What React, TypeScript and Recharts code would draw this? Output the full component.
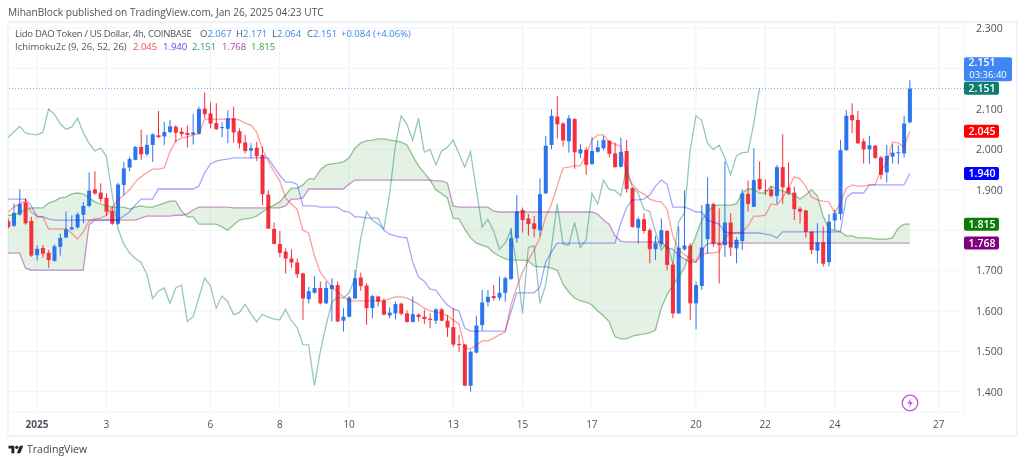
import { ComposedChart, Area, Bar, Line, XAxis, YAxis, CartesianGrid, ReferenceLine } from 'recharts';

// 4h candles, first one sits a little before Jan 1
const firstBar = -5;

const opens = [
  1.822,1.811,1.839,1.868,1.823,1.738,1.756,1.744,1.724,1.759,
  1.782,1.802,1.807,1.838,1.860,1.901,1.893,1.880,1.848,1.816,
  1.912,1.955,1.974,2.006,1.988,2.011,2.035,2.032,2.043,2.056,
  2.044,2.041,2.037,2.039,2.101,2.089,2.065,2.054,2.051,2.077,
  2.045,2.017,1.997,2.004,1.986,1.888,1.803,1.766,1.747,1.730,
  1.720,1.693,1.629,1.645,1.657,1.619,1.654,1.664,1.576,1.586,
  1.631,1.683,1.663,1.607,1.636,1.626,1.589,1.594,1.618,1.594,
  1.573,1.591,1.586,1.581,1.576,1.604,1.576,1.560,1.518,1.517,
  1.415,1.497,1.565,1.622,1.637,1.633,1.645,1.679,1.780,1.850,
  1.829,1.817,1.800,1.891,2.011,2.081,2.064,2.020,2.075,1.990,
  1.999,1.964,1.994,2.003,2.021,1.990,1.957,1.996,1.904,1.806,
  1.827,1.800,1.753,1.766,1.798,1.715,1.594,1.753,1.762,1.619,
  1.662,1.778,1.865,1.767,1.763,1.819,1.755,1.773,1.890,1.858,
  1.927,1.899,1.901,1.885,1.956,1.906,1.893,1.853,1.849,1.796,
  1.749,1.770,1.721,1.824,1.840,1.998,2.085,2.073,2.020,2.000,
  2.009,1.980,1.943,1.982,1.991,1.990,2.067,
];
const highs = [
  1.829,1.866,1.901,1.879,1.833,1.763,1.763,1.751,1.765,1.792,
  1.846,1.837,1.844,1.870,1.943,1.946,1.916,1.891,1.858,1.917,
  1.969,1.982,2.008,2.049,2.036,2.040,2.095,2.068,2.073,2.060,
  2.054,2.059,2.087,2.106,2.141,2.116,2.114,2.067,2.097,2.106,
  2.052,2.036,2.015,2.019,2.006,1.899,1.819,1.798,1.755,1.753,
  1.730,1.695,1.660,1.687,1.673,1.673,1.681,1.673,1.607,1.637,
  1.701,1.695,1.668,1.640,1.638,1.631,1.609,1.623,1.621,1.601,
  1.636,1.594,1.603,1.594,1.607,1.607,1.590,1.607,1.541,1.518,
  1.503,1.588,1.652,1.652,1.664,1.685,1.685,1.805,1.887,1.856,
  1.840,1.835,1.928,2.033,2.099,2.132,2.067,2.085,2.077,2.013,
  2.005,2.031,2.022,2.033,2.023,2.017,2.029,2.023,1.906,1.833,
  1.842,1.805,1.786,1.829,1.800,1.722,1.809,1.899,1.768,1.673,
  1.862,1.931,1.868,1.854,1.970,1.842,1.782,1.901,1.923,2.003,
  1.970,1.926,1.908,1.961,2.037,1.968,1.908,1.858,1.850,1.798,
  1.817,1.809,1.840,1.850,2.023,2.097,2.114,2.095,2.027,2.033,
  2.011,1.984,2.011,2.013,2.010,2.083,2.171,
];
const lows = [
  1.804,1.808,1.836,1.813,1.734,1.725,1.732,1.707,1.722,1.737,
  1.780,1.800,1.804,1.817,1.857,1.888,1.870,1.835,1.813,1.813,
  1.887,1.946,1.973,1.974,1.984,1.969,2.029,2.011,2.040,2.017,
  2.031,2.005,2.012,2.037,2.077,2.052,2.048,2.030,2.015,2.017,
  2.002,1.990,1.978,1.971,1.862,1.803,1.765,1.733,1.693,1.707,
  1.682,1.578,1.619,1.643,1.616,1.617,1.574,1.573,1.549,1.584,
  1.630,1.650,1.566,1.582,1.611,1.589,1.582,1.579,1.589,1.571,
  1.571,1.574,1.568,1.557,1.568,1.574,1.536,1.510,1.499,1.414,
  1.400,1.495,1.551,1.611,1.626,1.626,1.623,1.677,1.769,1.794,
  1.786,1.782,1.784,1.890,2.000,2.027,2.007,1.992,1.952,1.978,
  1.937,1.961,1.992,1.998,1.980,1.955,1.955,1.893,1.806,1.767,
  1.792,1.718,1.726,1.759,1.701,1.582,1.593,1.749,1.578,1.555,
  1.652,1.741,1.759,1.668,1.734,1.736,1.718,1.751,1.846,1.857,
  1.898,1.887,1.881,1.865,1.865,1.887,1.825,1.817,1.782,1.741,
  1.718,1.710,1.711,1.800,1.825,1.997,2.040,2.013,1.965,1.964,
  1.977,1.926,1.918,1.965,1.963,1.980,2.064,
];
const closes = [
  1.808,1.843,1.865,1.817,1.737,1.754,1.742,1.726,1.760,1.781,
  1.802,1.807,1.839,1.860,1.898,1.891,1.877,1.846,1.816,1.913,
  1.953,1.976,2.006,1.988,2.011,2.037,2.030,2.043,2.057,2.041,
  2.038,2.036,2.042,2.100,2.087,2.064,2.050,2.055,2.077,2.042,
  2.015,1.996,2.003,1.983,1.889,1.804,1.766,1.744,1.730,1.720,
  1.691,1.631,1.649,1.657,1.619,1.657,1.664,1.574,1.586,1.633,
  1.681,1.662,1.607,1.637,1.623,1.591,1.596,1.617,1.593,1.573,
  1.592,1.585,1.580,1.578,1.604,1.576,1.559,1.517,1.516,1.415,
  1.499,1.564,1.621,1.635,1.632,1.645,1.681,1.780,1.846,1.825,
  1.815,1.803,1.889,2.009,2.083,2.062,2.022,2.077,1.993,2.000,
  1.962,1.996,2.005,2.023,1.989,1.956,1.994,1.902,1.808,1.827,
  1.798,1.753,1.768,1.800,1.714,1.594,1.757,1.762,1.619,1.664,
  1.757,1.865,1.766,1.763,1.819,1.757,1.776,1.891,1.865,1.924,
  1.901,1.898,1.885,1.956,1.906,1.891,1.852,1.846,1.796,1.751,
  1.770,1.717,1.821,1.842,1.998,2.083,2.072,2.015,2.000,2.010,
  1.979,1.937,1.984,1.992,1.993,2.064,2.151,
];

const conversion = [
  1.845,1.857,1.865,1.872,1.845,1.835,1.833,1.803,1.803,1.803,
  1.803,1.793,1.778,1.796,1.823,1.828,1.830,1.837,1.857,1.875,
  1.887,1.900,1.919,1.932,1.942,1.951,1.951,1.954,1.994,2.021,
  2.028,2.031,2.036,2.038,2.075,2.075,2.075,2.075,2.075,2.075,
  2.073,2.065,2.060,2.043,2.001,1.971,1.944,1.922,1.880,1.865,
  1.852,1.800,1.793,1.736,1.696,1.677,1.659,1.647,1.635,1.625,
  1.625,1.625,1.625,1.625,1.625,1.625,1.630,1.635,1.635,1.632,
  1.625,1.617,1.607,1.600,1.598,1.595,1.588,1.578,1.568,1.508,
  1.506,1.516,1.526,1.526,1.533,1.541,1.548,1.615,1.659,1.696,
  1.726,1.751,1.781,1.833,1.865,1.909,1.954,1.956,1.959,1.959,
  1.986,2.023,2.036,2.036,2.018,2.013,2.008,1.937,1.914,1.897,
  1.890,1.877,1.872,1.870,1.852,1.786,1.751,1.739,1.731,1.721,
  1.739,1.744,1.744,1.746,1.781,1.793,1.793,1.796,1.810,1.835,
  1.835,1.837,1.865,1.862,1.880,1.904,1.932,1.927,1.909,1.882,
  1.875,1.872,1.870,1.843,1.867,1.904,1.912,1.909,1.909,1.912,
  1.912,1.949,1.966,2.018,2.016,2.006,2.045,
];
const baseLine = [
  1.877,1.877,1.877,1.877,1.860,1.833,1.833,1.828,1.825,1.825,
  1.825,1.825,1.825,1.825,1.825,1.825,1.825,1.825,1.825,1.825,
  1.835,1.845,1.862,1.877,1.877,1.877,1.902,1.902,1.902,1.902,
  1.902,1.902,1.902,1.909,1.942,1.964,1.971,1.974,1.976,1.979,
  1.979,1.979,1.979,1.979,1.979,1.979,1.956,1.936,1.919,1.919,
  1.914,1.860,1.860,1.860,1.857,1.857,1.857,1.857,1.847,1.845,
  1.833,1.833,1.830,1.830,1.830,1.800,1.790,1.786,1.783,1.781,
  1.721,1.684,1.674,1.654,1.652,1.632,1.615,1.605,1.600,1.558,
  1.550,1.550,1.550,1.550,1.550,1.550,1.550,1.598,1.645,1.645,
  1.645,1.645,1.659,1.721,1.746,1.768,1.768,1.768,1.768,1.768,
  1.768,1.768,1.768,1.768,1.768,1.768,1.818,1.855,1.875,1.875,
  1.877,1.887,1.909,1.924,1.914,1.857,1.857,1.857,1.852,1.845,
  1.845,1.825,1.820,1.815,1.796,1.793,1.793,1.793,1.793,1.793,
  1.793,1.790,1.788,1.781,1.796,1.796,1.796,1.796,1.796,1.796,
  1.796,1.796,1.796,1.796,1.796,1.880,1.892,1.892,1.892,1.912,
  1.912,1.912,1.912,1.912,1.912,1.912,1.940,
];
// ends 26 bars before the last candle
const lagging = [
  2.030,2.043,2.057,2.041,
  2.038,2.036,2.042,2.100,2.087,2.064,2.050,2.055,2.077,2.042,
  2.015,1.996,2.003,1.983,1.889,1.804,1.766,1.744,1.730,1.720,
  1.691,1.631,1.649,1.657,1.619,1.657,1.664,1.574,1.586,1.633,
  1.681,1.662,1.607,1.637,1.623,1.591,1.596,1.617,1.593,1.573,
  1.592,1.585,1.580,1.578,1.604,1.576,1.559,1.517,1.516,1.415,
  1.499,1.564,1.621,1.635,1.632,1.645,1.681,1.780,1.846,1.825,
  1.815,1.803,1.889,2.009,2.083,2.062,2.022,2.077,1.993,2.000,
  1.962,1.996,2.005,2.023,1.989,1.956,1.994,1.902,1.808,1.827,
  1.798,1.753,1.768,1.800,1.714,1.594,1.757,1.762,1.619,1.664,
  1.757,1.865,1.766,1.763,1.819,1.757,1.776,1.891,1.865,1.924,
  1.901,1.898,1.885,1.956,1.906,1.891,1.852,1.846,1.796,1.751,
  1.770,1.717,1.821,1.842,1.998,2.083,2.072,2.015,2.000,2.010,
  1.979,1.937,1.984,1.992,1.993,2.064,2.151,
];
const leadA = [
  1.837,1.837,1.845,1.850,1.855,1.855,1.855,1.867,1.872,1.880,
  1.882,1.890,1.892,1.890,1.880,1.870,1.865,1.860,1.857,1.857,
  1.857,1.852,1.857,1.860,1.857,1.857,1.862,1.867,1.872,1.872,
  1.847,1.833,1.833,1.815,1.815,1.815,1.815,1.808,1.800,1.813,
  1.825,1.828,1.830,1.835,1.845,1.855,1.862,1.870,1.887,1.904,
  1.904,1.912,1.927,1.927,1.949,1.961,1.964,1.966,1.969,1.979,
  2.003,2.016,2.021,2.023,2.026,2.026,2.023,2.021,2.018,2.011,
  1.984,1.959,1.942,1.924,1.900,1.890,1.880,1.830,1.828,1.803,
  1.781,1.768,1.763,1.758,1.744,1.736,1.729,1.726,1.726,1.726,
  1.724,1.711,1.709,1.709,1.706,1.701,1.667,1.647,1.632,1.625,
  1.622,1.615,1.600,1.588,1.573,1.536,1.531,1.531,1.538,1.541,
  1.543,1.546,1.553,1.607,1.640,1.664,1.684,1.706,1.751,1.786,
  1.825,1.845,1.860,1.862,1.862,1.862,1.865,1.892,1.902,1.902,
  1.892,1.892,1.909,1.902,1.897,1.892,1.887,1.877,1.887,1.900,
  1.885,1.835,1.803,1.800,1.796,1.786,1.786,1.781,1.781,1.781,
  1.778,1.778,1.778,1.781,1.805,1.815,1.815,
];
const leadB = [
  1.743,1.743,1.743,1.706,1.701,1.701,1.701,1.701,1.701,1.701,
  1.701,1.701,1.701,1.701,1.813,1.825,1.825,1.825,1.825,1.825,
  1.825,1.825,1.825,1.830,1.835,1.835,1.835,1.835,1.835,1.837,
  1.837,1.840,1.850,1.857,1.857,1.857,1.857,1.857,1.857,1.855,
  1.855,1.855,1.855,1.855,1.855,1.855,1.855,1.855,1.860,1.877,
  1.877,1.880,1.902,1.902,1.902,1.902,1.902,1.902,1.902,1.914,
  1.924,1.924,1.924,1.924,1.924,1.924,1.924,1.924,1.924,1.924,
  1.924,1.924,1.924,1.924,1.922,1.922,1.917,1.860,1.857,1.857,
  1.857,1.857,1.857,1.857,1.847,1.845,1.845,1.845,1.845,1.845,
  1.845,1.845,1.845,1.845,1.845,1.845,1.845,1.845,1.845,1.845,
  1.845,1.845,1.840,1.825,1.815,1.786,1.773,1.771,1.771,1.771,
  1.771,1.771,1.771,1.771,1.756,1.753,1.738,1.729,1.721,1.721,
  1.751,1.766,1.768,1.768,1.768,1.768,1.768,1.768,1.768,1.768,
  1.768,1.768,1.768,1.768,1.768,1.768,1.768,1.768,1.768,1.768,
  1.768,1.768,1.768,1.768,1.768,1.768,1.768,1.768,1.768,1.768,
  1.768,1.768,1.768,1.768,1.768,1.768,1.768,
];

const priceTicks = [2.3, 2.2, 2.1, 2.0, 1.9, 1.8, 1.7, 1.6, 1.5, 1.4];
// these two sit behind the price badges in the original
const hiddenPriceLabels = [2.2, 1.8];
const timeTicks = [0, 12, 30, 42, 54, 72, 84, 96, 114, 126, 138, 156];
const timeLabels = ['2025', '3', '6', '8', '10', '13', '15', '17', '20', '22', '24', '27'];

const lastPrice = 2.151;
const badgeValues = [2.151, 2.045, 1.94, 1.815, 1.768];
const badgeColors = ['#0f7c72', '#ff0000', '#0000ff', '#0b7a0b', '#800080'];

const data = opens.map((open, k) => ({
  i: firstBar + k,
  open,
  high: highs[k],
  low: lows[k],
  close: closes[k],
  conversion: conversion[k],
  baseLine: baseLine[k],
  lagging: lagging[k],
  leadA: leadA[k],
  leadB: leadB[k],
}));

const UP = '#2b76ef';
const DOWN = '#f4303f';
const GRID = '#f1f3f8';
const FONT = '"Open Sans", sans-serif';
const TEXT = '#50535e';

function Candle(props: any) {
  const { x, y, width, height, payload } = props;
  const { open, high, low, close } = payload;
  const yOf = (p: number) => y + ((high - p) / (high - low)) * height;
  const top = yOf(Math.max(open, close));
  const bottom = yOf(Math.min(open, close));
  const color = close >= open ? UP : DOWN;
  const cx = x + width / 2;
  return (
    <g>
      <line x1={cx} x2={cx} y1={y} y2={y + height} stroke={color} strokeWidth={1} />
      <rect x={x} y={top} width={width} height={Math.max(bottom - top, 1)} fill={color} />
    </g>
  );
}

function Badge({ viewBox, color, text }: any) {
  const left = viewBox.x + viewBox.width;
  return (
    <g>
      <rect x={left} y={viewBox.y - 6.5} width={35} height={13} rx={2} fill={color} />
      <text x={left + 18} y={viewBox.y + 3.5} textAnchor="middle" fontSize={10.5} fontFamily={FONT} fontWeight={600} fill="#fff">
        {text}
      </text>
    </g>
  );
}

function CountdownBadge({ viewBox }: any) {
  const left = viewBox.x + viewBox.width;
  return (
    <g fontFamily={FONT} fill="#fff" textAnchor="middle">
      <rect x={left} y={viewBox.y - 31} width={48} height={24} rx={2} fill="#3f86f4" />
      <text x={left + 18} y={viewBox.y - 22} fontSize={10.5} fontWeight={600}>{lastPrice.toFixed(3)}</text>
      <text x={left + 24} y={viewBox.y - 10.5} fontSize={9.5}>03:36:40</text>
    </g>
  );
}

function TimeTick({ x, y, payload }: any) {
  const label = timeLabels[timeTicks.indexOf(payload.value)];
  return (
    <text x={x} y={y + 8} textAnchor="middle" fontSize={10} fontFamily={FONT} fontWeight={label === '2025' ? 700 : 400} fill={TEXT}>
      {label}
    </text>
  );
}

const abs = (left: number, top: number, color = TEXT): React.CSSProperties => ({
  position: 'absolute',
  left,
  top,
  color,
  fontFamily: FONT,
  fontSize: 9.5,
  lineHeight: '12px',
  whiteSpace: 'nowrap',
});

const ohlc: [string, number, string][] = [
  ['O', 200, '2.067'],
  ['H', 236, '2.171'],
  ['L', 272, '2.064'],
  ['C', 307, '2.151'],
];
const VALUE = '#3d86ee';
const indicatorValues: [string, number, string][] = [
  ['2.045', 133, '#f4484f'],
  ['1.940', 163, '#4d4dff'],
  ['2.151', 192, '#26958d'],
  ['1.768', 222, '#a445a4'],
  ['1.815', 251, '#3fa03f'],
];

export default function App() {
  return (
    <div style={{ position: 'absolute', left: 0, top: 0, width: 1024, height: 463, background: '#fff', overflow: 'hidden', filter: 'blur(0.35px)' }}>
      <div style={{ position: 'absolute', left: 7, top: 21, width: 1007, height: 412, border: `2px solid ${GRID}` }} />

      <ComposedChart width={1024} height={463} data={data} margin={{ top: 23, right: 0, bottom: 28, left: 8 }} style={{ position: 'absolute', left: 0, top: 0 }}>
        <CartesianGrid stroke={GRID} strokeWidth={1} />
        <XAxis
          dataKey="i"
          type="number"
          domain={[-5.02, 160.38]}
          ticks={timeTicks}
          tick={<TimeTick />}
          axisLine={false}
          tickLine={false}
          height={23}
          allowDataOverflow
        />
        <YAxis
          orientation="right"
          type="number"
          domain={[1.35, 2.3128]}
          ticks={priceTicks}
          tickFormatter={(v: number) => (hiddenPriceLabels.includes(v) ? '' : v.toFixed(3))}
          tick={{ fontSize: 10.5, fontFamily: FONT, fill: TEXT }}
          tickMargin={6}
          axisLine={false}
          tickLine={false}
          width={60}
          allowDataOverflow
        />
        <Area dataKey={(d: any) => [d.leadB, d.leadA]} stroke="none" fill="#43a047" fillOpacity={0.14} isAnimationActive={false} />
        <Line dataKey="leadA" stroke="#2e8b2e" strokeOpacity={0.5} strokeWidth={1.3} dot={false} isAnimationActive={false} />
        <Line dataKey="leadB" stroke="#800080" strokeOpacity={0.4} strokeWidth={1.3} dot={false} isAnimationActive={false} />
        <Line dataKey="lagging" stroke="#00796b" strokeOpacity={0.42} strokeWidth={1.3} dot={false} isAnimationActive={false} />
        <Line dataKey="baseLine" stroke="#0000ff" strokeOpacity={0.35} strokeWidth={1.3} dot={false} isAnimationActive={false} />
        <Line dataKey="conversion" stroke="#ff0000" strokeOpacity={0.38} strokeWidth={1.3} dot={false} isAnimationActive={false} />
        <Bar dataKey={(d: any) => [d.low, d.high]} barSize={4} shape={<Candle />} isAnimationActive={false} />
        <ReferenceLine y={lastPrice} stroke="#6f9ff0" strokeDasharray="1 2" label={(p: any) => <CountdownBadge {...p} />} />
        {badgeValues.map((v, k) => (
          <ReferenceLine key={k} y={v} stroke="none" label={(p: any) => <Badge {...p} color={badgeColors[k]} text={v.toFixed(3)} />} />
        ))}
      </ComposedChart>

      <div style={{ ...abs(8, 6), fontSize: 10.15 }}>MihanBlock published on TradingView.com, Jan 26, 2025 04:23 UTC</div>

      <div style={{ ...abs(15, 28), letterSpacing: -0.28 }}>Lido DAO Token / US Dollar, 4h, COINBASE</div>
      {ohlc.map(([k, left, v]) => (
        <div key={k} style={{ ...abs(left, 28) }}>
          {k}
          <span style={{ color: VALUE }}>{v}</span>
        </div>
      ))}
      <div style={{ ...abs(341, 28, VALUE) }}>+0.084 (+4.06%)</div>

      <div style={{ ...abs(15, 41) }}>Ichimoku2c (9, 26, 52, 26)</div>
      {indicatorValues.map(([v, left, color]) => (
        <div key={left} style={{ ...abs(left, 41, color) }}>{v}</div>
      ))}

      <svg width={20} height={20} viewBox="0 0 20 20" style={{ position: 'absolute', left: 900, top: 393 }}>
        <circle cx={10} cy={10} r={7.8} fill="#fff" stroke="#c352dc" strokeWidth={1.3} />
        <path d="M11 5 L7.5 10.8 H10 L9 15 L12.7 9 H10.2 Z" fill="#c352dc" />
      </svg>

      <svg width={16} height={10} viewBox="0 0 36 24" style={{ position: 'absolute', left: 8, top: 444 }}>
        <path d="M14 22H7V11H0V4h14v18zM28 22h-8l7.5-18h8L28 22z" fill="#222" />
        <circle cx={20} cy={8} r={4} fill="#222" />
      </svg>
      <div style={{ ...abs(27, 443, '#444'), fontSize: 10.5 }}>TradingView</div>
    </div>
  );
}
